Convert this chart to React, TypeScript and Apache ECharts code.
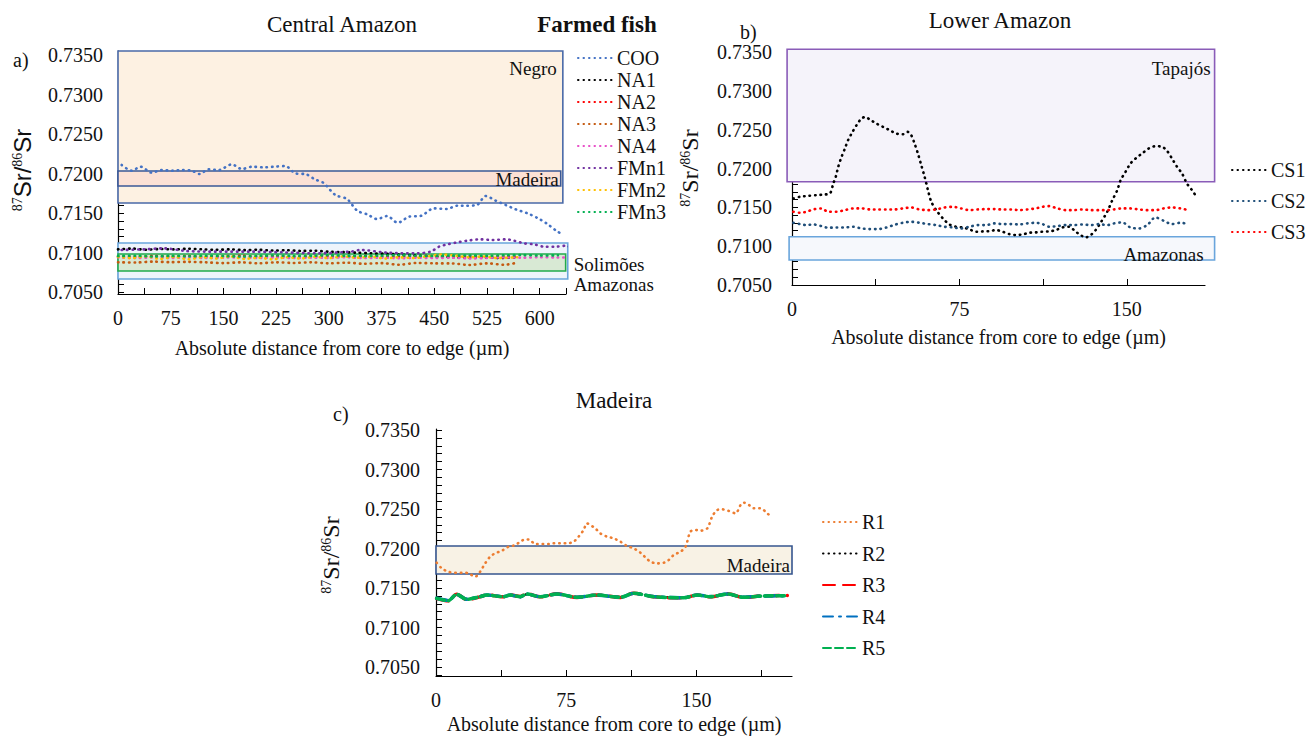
import React, { useEffect, useRef } from "react";
import * as echarts from "echarts";

const SERIF = '"Liberation Serif", "Times New Roman", serif';
const SANS = '"Liberation Sans", "DejaVu Sans", sans-serif';

// ---------- tick labels ----------
const yLabelValues = [0.705, 0.71, 0.715, 0.72, 0.725, 0.73, 0.735];
const xLabelsA = [0, 75, 150, 225, 300, 375, 450, 525, 600];
const xTicksA = [0, 37.5, 75, 112.5, 150, 187.5, 225, 262.5, 300, 337.5, 375, 412.5, 450, 487.5, 525, 562.5, 600, 637.5];
const xLabelsBC = [0, 75, 150];
const xTicksB = [0, 37.5, 75, 112.5, 150];
const xTicksC = [0, 37.5, 75, 112.5, 150, 187.5];

// ---------- panel a: Central Amazon (farmed fish) ----------
const COO = [[5.2,0.72108],[19.5,0.72036],[32.3,0.72086],[48,0.72011],[62,0.72044],[76.5,0.72036],[90.8,0.72044],[105,0.72036],[116,0.71994],[128.8,0.72053],[143,0.72044],[162,0.72116],[176.4,0.72057],[190.6,0.72086],[207,0.72078],[221.5,0.72086],[238,0.72095],[252.4,0.72002],[268,0.7199],[280,0.71927],[292,0.71884],[309.4,0.71728],[326,0.71677],[340.5,0.71529],[354.6,0.71483],[368.8,0.71424],[383,0.71462],[398,0.71377],[414,0.71453],[431.6,0.71466],[449.6,0.71559],[467.7,0.71551],[483,0.71593],[496,0.71593],[510.5,0.71601],[523.3,0.71715],[537.6,0.71656],[551.8,0.71601],[566,0.71547],[582.7,0.71496],[597.9,0.71433],[611,0.71361],[625.4,0.71264],[632.6,0.71234]];
const NA1 = [[0,0.7104],[20,0.7105],[40,0.71035],[60,0.71045],[80,0.7104],[100,0.71048],[120,0.7104],[140,0.71035],[160,0.7104],[180,0.7103],[200,0.71035],[220,0.71025],[240,0.7103],[260,0.7102],[280,0.71022],[300,0.7101],[320,0.71005],[340,0.70998],[360,0.7099],[380,0.70985],[400,0.70975],[420,0.70965],[440,0.70955],[460,0.70945],[480,0.7094],[500,0.70935],[520,0.7094],[540,0.7093],[568,0.7094]];
const NA2 = [[0,0.7095],[25,0.70945],[50,0.70955],[75,0.70948],[100,0.70955],[125,0.70945],[150,0.70952],[175,0.70958],[200,0.70948],[225,0.70955],[250,0.70945],[275,0.70952],[300,0.70956],[325,0.70948],[350,0.70955],[375,0.7095],[400,0.70945],[425,0.70952],[450,0.70955],[475,0.70948],[500,0.70952],[525,0.70945],[550,0.7095],[568,0.70948]];
const NA3 = [[0,0.70876],[25,0.70874],[50,0.70885],[75,0.70878],[100,0.70882],[125,0.70876],[150,0.70866],[175,0.70876],[200,0.70863],[225,0.70876],[250,0.70868],[275,0.70876],[300,0.70863],[325,0.70872],[350,0.70858],[375,0.70866],[400,0.70845],[425,0.70868],[450,0.70863],[475,0.70862],[500,0.70842],[525,0.70863],[550,0.70845],[568,0.70872]];
const NA4 = [[0,0.7094],[25,0.7093],[50,0.70938],[75,0.70932],[100,0.7094],[125,0.7093],[150,0.70935],[175,0.7094],[200,0.70932],[225,0.70938],[250,0.7093],[275,0.70936],[300,0.70932],[325,0.7094],[350,0.7093],[375,0.70935],[400,0.70928],[425,0.70935],[450,0.7093],[475,0.70936],[500,0.70925],[525,0.70932],[550,0.70938],[575,0.70935],[600,0.7094],[625,0.70938],[648,0.70935]];
const FMn1 = [[5.2,0.71032],[36.1,0.7104],[64.6,0.71053],[97.9,0.71019],[140.7,0.71011],[188.2,0.71011],[235.7,0.71002],[283.3,0.7099],[330.8,0.71011],[345.1,0.71032],[383.1,0.70998],[425.9,0.7099],[444.9,0.71011],[456.8,0.71074],[468.7,0.71103],[482.9,0.71129],[497.2,0.7115],[516.2,0.71167],[532.8,0.71158],[551.8,0.71167],[563.7,0.7115],[577.9,0.71116],[592.2,0.71103],[606.5,0.71074],[623.1,0.71074],[637.4,0.71086],[646.9,0.71053]];
const FMn2 = [[0,0.70945],[20,0.7093],[40,0.7095],[60,0.7092],[80,0.70945],[100,0.70915],[120,0.7094],[140,0.70925],[160,0.7095],[180,0.7092],[200,0.70935],[220,0.70915],[240,0.7094],[260,0.70925],[280,0.70945],[300,0.7093],[320,0.7095],[340,0.70935],[360,0.70945],[380,0.70925],[400,0.7094],[420,0.7093],[440,0.7095],[460,0.70975],[480,0.7096],[500,0.7094],[520,0.7095],[540,0.7093],[568,0.7094]];
const FMn3 = [[0,0.70955],[25,0.7096],[50,0.7095],[75,0.70958],[100,0.70952],[125,0.7096],[150,0.70955],[175,0.7095],[200,0.70958],[225,0.70962],[250,0.70955],[275,0.70958],[300,0.70965],[325,0.70958],[350,0.70955],[375,0.7096],[400,0.70965],[425,0.70958],[450,0.70955],[475,0.7096],[500,0.70962],[525,0.70958],[550,0.70965],[575,0.70968],[600,0.70962],[626,0.70965]];

// ---------- panel b: Lower Amazon ----------
const CS1 = [[0.6,0.71614],[3.6,0.71636],[7.3,0.71648],[11.0,0.71657],[14.7,0.71666],[17.0,0.71678],[18.5,0.71807],[19.6,0.71893],[20.7,0.72021],[22.2,0.7215],[23.7,0.72257],[25.1,0.72364],[27.1,0.72471],[28.9,0.72557],[31.1,0.72643],[33.0,0.72664],[34.8,0.7263],[37.8,0.72579],[40.8,0.72536],[43.8,0.72493],[46.7,0.7245],[49.7,0.72441],[51.9,0.72471],[53.4,0.72429],[54.9,0.72321],[56.4,0.72193],[57.9,0.72043],[59.4,0.71893],[60.9,0.71721],[62.4,0.71571],[64.6,0.71464],[67.6,0.71357],[70.5,0.7128],[73.5,0.7125],[76.5,0.71241],[79.5,0.71216],[82.4,0.71186],[85.4,0.7119],[88.4,0.71194],[91.4,0.71207],[94.3,0.71186],[97.3,0.71156],[100.3,0.71143],[103.3,0.71151],[106.3,0.71173],[109.2,0.71177],[112.2,0.71186],[115.2,0.7119],[118.2,0.71207],[121.1,0.71241],[124.1,0.7125],[127.1,0.71186],[129.3,0.71143],[131.5,0.71113],[133.8,0.71143],[136.0,0.71207],[138.2,0.71301],[141.2,0.71443],[143.5,0.71593],[145.7,0.71721],[147.2,0.7185],[149.4,0.71957],[151.6,0.72064],[153.9,0.72129],[156.8,0.72193],[159.8,0.72257],[162.8,0.72287],[165.8,0.72279],[168.0,0.72227],[170.2,0.72129],[172.5,0.72021],[174.7,0.71936],[176.9,0.71807],[179.2,0.71721],[180.7,0.71657]];
const xCS = [0.6,3.6,6.5,9.5,13.2,16.2,19.9,23.7,27.4,31.1,34.8,38.5,42.3,46.0,49.7,53.4,57.1,60.9,64.6,68.3,72.0,75.7,79.5,83.2,86.9,90.6,94.3,98.1,101.8,105.5,109.2,112.2,115.2,118.9,122.6,126.3,130.1,133.8,137.5,141.2,144.2,147.9,151.6,155.4,159.1,162.8,166.5,170.2,174.0,177.7];
const CS2 = [0.71301,0.71284,0.71271,0.7128,0.71258,0.71237,0.71241,0.71241,0.7125,0.71228,0.7122,0.7122,0.71241,0.71276,0.71301,0.71314,0.71301,0.71284,0.71271,0.7125,0.71241,0.71228,0.7125,0.71271,0.71271,0.71293,0.71284,0.71284,0.7128,0.71293,0.71301,0.71284,0.7125,0.71258,0.71271,0.71271,0.7128,0.71271,0.71284,0.71271,0.71293,0.71306,0.71241,0.71228,0.71271,0.7137,0.71327,0.71284,0.71301,0.71284];
const CS3 = [0.71443,0.7143,0.71443,0.71473,0.71486,0.71443,0.71443,0.71464,0.71486,0.71486,0.71473,0.71473,0.71473,0.71473,0.71486,0.71498,0.71473,0.71464,0.71473,0.71498,0.71507,0.71486,0.71464,0.71473,0.71477,0.71477,0.71473,0.71473,0.71464,0.71473,0.71486,0.71507,0.71516,0.71486,0.71464,0.71464,0.71473,0.71464,0.71464,0.71464,0.71473,0.71486,0.71486,0.71473,0.71464,0.71464,0.71486,0.71498,0.71486,0.71464];

// ---------- panel c: Madeira ----------
const R1 = [[0.4,0.7182],[3.3,0.71749],[7.1,0.71706],[11.0,0.71694],[14.8,0.71694],[18.7,0.71686],[22.5,0.71643],[25.4,0.71706],[28.3,0.71812],[31.2,0.71897],[34.0,0.71939],[37.9,0.71972],[41.7,0.72023],[45.6,0.72044],[48.5,0.72086],[51.3,0.72116],[54.2,0.72108],[57.1,0.72057],[61.0,0.72057],[64.8,0.72057],[67.7,0.72066],[71.5,0.72066],[75.4,0.72066],[79.2,0.72086],[82.1,0.7215],[85.0,0.72234],[86.9,0.72319],[88.8,0.72297],[91.7,0.72255],[94.6,0.72192],[98.5,0.7215],[102.3,0.72129],[106.2,0.72086],[110.0,0.72032],[113.8,0.72002],[117.7,0.71947],[120.6,0.71888],[123.5,0.71833],[127.3,0.71812],[131.2,0.7182],[134.0,0.71854],[136.9,0.71918],[140.8,0.7196],[143.7,0.72023],[146.5,0.72213],[149.4,0.72234],[152.3,0.72226],[156.2,0.72255],[159.0,0.72403],[161.9,0.72487],[164.8,0.72496],[168.7,0.72475],[172.5,0.72445],[175.4,0.72551],[177.3,0.7258],[180.2,0.72551],[183.1,0.72509],[186.9,0.72509],[189.8,0.72466],[192.7,0.72403]];
const xR = [0.4,7.1,11.9,17.7,25.4,29.2,38.8,42.7,48.5,52.3,60,69.6,81.2,92.7,106.2,113.8,125.4,142.7,150.4,158.1,167.7,177.3,186.9,202.3];
const R2 = [0.71372,0.71342,0.71418,0.7136,0.71392,0.71408,0.71392,0.7141,0.71388,0.7142,0.71392,0.71422,0.71385,0.71408,0.71384,0.7143,0.71392,0.7138,0.71408,0.71392,0.7142,0.71385,0.71396,0.714];
const R3 = [0.71366,0.71338,0.71422,0.71355,0.71388,0.71413,0.71388,0.71412,0.71392,0.71426,0.71388,0.71426,0.7138,0.71413,0.7138,0.71435,0.71388,0.71375,0.71413,0.71388,0.71426,0.7138,0.714,0.71405];
const R4 = [0.7137,0.71342,0.71419,0.71358,0.71391,0.7141,0.71391,0.71411,0.71389,0.71423,0.71391,0.71423,0.71383,0.7141,0.71383,0.71432,0.71391,0.71378,0.7141,0.71391,0.71423,0.71383,0.71397,0.71402];
const R5 = [0.71369,0.7134,0.7142,0.71357,0.7139,0.71411,0.7139,0.71411,0.7139,0.71424,0.7139,0.71424,0.71382,0.71411,0.71382,0.71433,0.7139,0.71377,0.71411,0.7139,0.71424,0.71382,0.71398,0.71403];

// ---------- reference ranges (x0, x1, y0, y1) ----------
const regionNamesA = ["Negro", "Madeira", "Solimões", "Amazonas"];
const regionRangesA = [[0, 633, 0.71627, 0.73551], [0, 630, 0.71842, 0.72032], [0, 640, 0.70665, 0.7112], [0, 637, 0.70766, 0.70981]];
const regionNamesB = ["Tapajós", "Amazonas"];
const regionRangesB = [[-2.2, 189.3, 0.71829, 0.73535], [-1.3, 189.3, 0.70822, 0.71122]];
const regionNamesC = ["Madeira"];
const regionRangesC = [[0, 205, 0.71677, 0.72032]];

// styles for region boxes (fill, stroke, label anchor)
const regionStylesA = [
  { fill: "#fdf1e2", stroke: "#4a6aa8", side: "in", dx: -6, dy: 17 },
  { fill: "#fce1d5", stroke: "#3a5896", side: "in", dx: -2, dy: 9 },
  { fill: "#eef4fb", stroke: "#6aa5dc", side: "out", dx: 6, dy: 21 },
  { fill: "#d8e9d4", stroke: "#22aa4c", side: "out", dx: 8, dy: 30 },
];
const regionStylesB = [
  { fill: "#f5f3fa", stroke: "#8a5cb8", side: "in", dx: -4, dy: 19 },
  { fill: "#f6f8fc", stroke: "#6aa5dc", side: "in", dx: -11, dy: 18 },
];
const regionStylesC = [{ fill: "#f8f2e5", stroke: "#36558f", side: "in", dx: -2, dy: 20 }];

const yMinorA = Array.from({ length: 31 }, (_, i) => +(0.705 + i * 0.001).toFixed(3));
const yMinorC = Array.from({ length: 32 }, (_, i) => +(0.704 + i * 0.001).toFixed(3));

const zip = (xs: number[], ys: number[]) => xs.map((x, i) => [x, ys[i]]);

function regionSeries(grid: number, names: string[], ranges: number[][], styles: any[]) {
  return {
    type: "custom",
    xAxisIndex: grid,
    yAxisIndex: grid,
    clip: false,
    silent: true,
    z: 1,
    encode: { x: [0, 1], y: [2, 3] },
    data: ranges,
    renderItem: (params: any, api: any) => {
      const i = params.dataIndex;
      const st = styles[i];
      const p0 = api.coord([api.value(0), api.value(3)]);
      const p1 = api.coord([api.value(1), api.value(2)]);
      return {
        type: "group",
        children: [
          {
            type: "rect",
            shape: { x: p0[0], y: p0[1], width: p1[0] - p0[0], height: p1[1] - p0[1] },
            style: { fill: st.fill, stroke: st.stroke, lineWidth: 1.6 },
          },
          {
            type: "text",
            x: p1[0] + st.dx,
            y: p0[1] + st.dy,
            z2: 50,
            style: {
              text: names[i],
              fontFamily: SERIF,
              fontSize: 19,
              fill: "#111",
              align: st.side === "in" ? "right" : "left",
              verticalAlign: "middle",
            },
          },
        ],
      };
    },
  };
}

const DOT = [0.5, 5];
function line(name: string, data: number[][], color: string, grid: number, type: any = DOT, width = 2.6) {
  return {
    type: "line",
    name,
    data,
    xAxisIndex: grid,
    yAxisIndex: grid,
    symbol: "none",
    smooth: 0.3,
    clip: false,
    z: 3,
    lineStyle: { color, width, type, cap: "round" },
    itemStyle: { color },
  };
}

function xAxis(grid: number, min: number, max: number, ticks: number[], labels: number[], nameGap: number) {
  return {
    type: "value",
    gridIndex: grid,
    min,
    max,
    name: "Absolute distance from core to edge (µm)",
    nameLocation: "middle",
    nameGap,
    nameTextStyle: { fontFamily: SERIF, fontSize: 20, color: "#111" },
    axisLine: { show: true, onZero: false, lineStyle: { color: "#000", width: 1.2 } },
    axisTick: { show: true, inside: true, length: 6, customValues: ticks, lineStyle: { color: "#000" } },
    axisLabel: { customValues: labels, fontFamily: SERIF, fontSize: 20, color: "#111", margin: 14, formatter: (v: number) => String(v) },
    splitLine: { show: false },
  };
}

function yAxis(grid: number, min: number, max: number, minor: number[], margin: number) {
  return {
    type: "value",
    gridIndex: grid,
    min,
    max,
    axisLine: { show: true, onZero: false, lineStyle: { color: "#000", width: 1.2 } },
    axisTick: { show: true, inside: true, length: 6, customValues: minor, lineStyle: { color: "#000" } },
    axisLabel: { customValues: yLabelValues, fontFamily: SERIF, fontSize: 20, color: "#111", margin, formatter: (v: number) => v.toFixed(4) },
    splitLine: { show: false },
  };
}

function legend(data: string[], left: number, top: number, gap: number) {
  return {
    data,
    left,
    top,
    orient: "vertical",
    padding: 0,
    itemWidth: 34,
    itemHeight: 12,
    itemGap: gap,
    selectedMode: false,
    itemStyle: { opacity: 0, borderWidth: 0 },
    textStyle: { fontFamily: SERIF, fontSize: 20, color: "#111", lineHeight: 20 },
  };
}

const srRich = (font: string, size: number) => ({
  sup: { fontFamily: SERIF, fontSize: 14, verticalAlign: "top", fill: "#111" },
  base: { fontFamily: font, fontSize: size, fill: "#111" },
});

function yName(x: number, y: number, font: string) {
  return {
    type: "text",
    x,
    y,
    rotation: Math.PI / 2,
    style: {
      text: "{sup|87}{base|Sr/}{sup|86}{base|Sr}",
      rich: srRich(font, 24),
      align: "center",
      verticalAlign: "middle",
      fill: "#111",
    },
  };
}

function label(text: string, x: number, y: number, size = 20, weight = "normal", align = "left") {
  return {
    type: "text",
    x,
    y,
    style: { text, fontFamily: SERIF, fontSize: size, fontWeight: weight, fill: "#111", align, verticalAlign: "middle" },
  };
}

export default function App() {
  const ref = useRef<HTMLDivElement>(null);
  useEffect(() => {
    const chart = echarts.init(ref.current!, null, { renderer: "svg" });
    chart.setOption({
      animation: false,
      backgroundColor: "#ffffff",
      textStyle: { fontFamily: SERIF },
      grid: [
        { left: 118, top: 51, width: 448, height: 243, containLabel: false, outerBoundsMode: "none" },
        { left: 792, top: 52, width: 413, height: 233, containLabel: false, outerBoundsMode: "none" },
        { left: 436, top: 429, width: 356, height: 247, containLabel: false, outerBoundsMode: "none" },
      ],
      xAxis: [
        xAxis(0, 0, 637.5, xTicksA, xLabelsA, 44),
        xAxis(1, 0, 185, xTicksB, xLabelsBC, 42),
        xAxis(2, 0, 205, xTicksC, xLabelsBC, 38),
      ],
      yAxis: [
        yAxis(0, 0.70475, 0.73551, yMinorA, 15),
        yAxis(1, 0.705, 0.735, yMinorA, 20),
        yAxis(2, 0.70386, 0.73513, yMinorC, 16),
      ],
      legend: [
        legend(["COO", "NA1", "NA2", "NA3", "NA4", "FMn1", "FMn2", "FMn3"], 577, 48, 2),
        legend(["CS1", "CS2", "CS3"], 1231, 160, 11),
        legend(["R1", "R2", "R3", "R4", "R5"], 822, 512, 11.5),
      ],
      graphic: [
        label("Central Amazon", 342, 24, 23, "normal", "center"),
        label("Farmed fish", 597, 24, 23, "bold", "center"),
        label("Lower Amazon", 1000, 20, 23, "normal", "center"),
        label("Madeira", 614, 400, 23, "normal", "center"),
        label("a)", 13, 60),
        label("b)", 740, 32),
        label("c)", 333, 414),
        yName(22, 170, SANS),
        yName(690, 168, SERIF),
        yName(331, 555, SERIF),
      ],
      series: [
        regionSeries(0, regionNamesA, regionRangesA, regionStylesA),
        regionSeries(1, regionNamesB, regionRangesB, regionStylesB),
        regionSeries(2, regionNamesC, regionRangesC, regionStylesC),
        line("COO", COO, "#4472c4", 0),
        line("NA1", NA1, "#000000", 0),
        line("NA2", NA2, "#ff0000", 0),
        line("NA3", NA3, "#c55a11", 0),
        line("NA4", NA4, "#e84fc8", 0),
        line("FMn1", FMn1, "#7030a0", 0),
        line("FMn2", FMn2, "#ffc000", 0),
        line("FMn3", FMn3, "#00b050", 0),
        line("CS1", CS1, "#000000", 1),
        line("CS2", zip(xCS, CS2), "#1f4e79", 1),
        line("CS3", zip(xCS, CS3), "#ff0000", 1),
        line("R1", R1, "#ed7d31", 2),
        line("R2", zip(xR, R2), "#000000", 2),
        line("R3", zip(xR, R3), "#ff0000", 2, [12, 8], 3.5),
        line("R4", zip(xR, R4), "#0070c0", 2, [10, 6, 2, 6], 3.5),
        line("R5", zip(xR, R5), "#00b050", 2, [8, 4], 3.5),
      ],
    });
    return () => chart.dispose();
  }, []);
  return <div ref={ref} style={{ position: "fixed", left: 0, top: 0, width: 1308, height: 736, background: "#fff" }} />;
}
